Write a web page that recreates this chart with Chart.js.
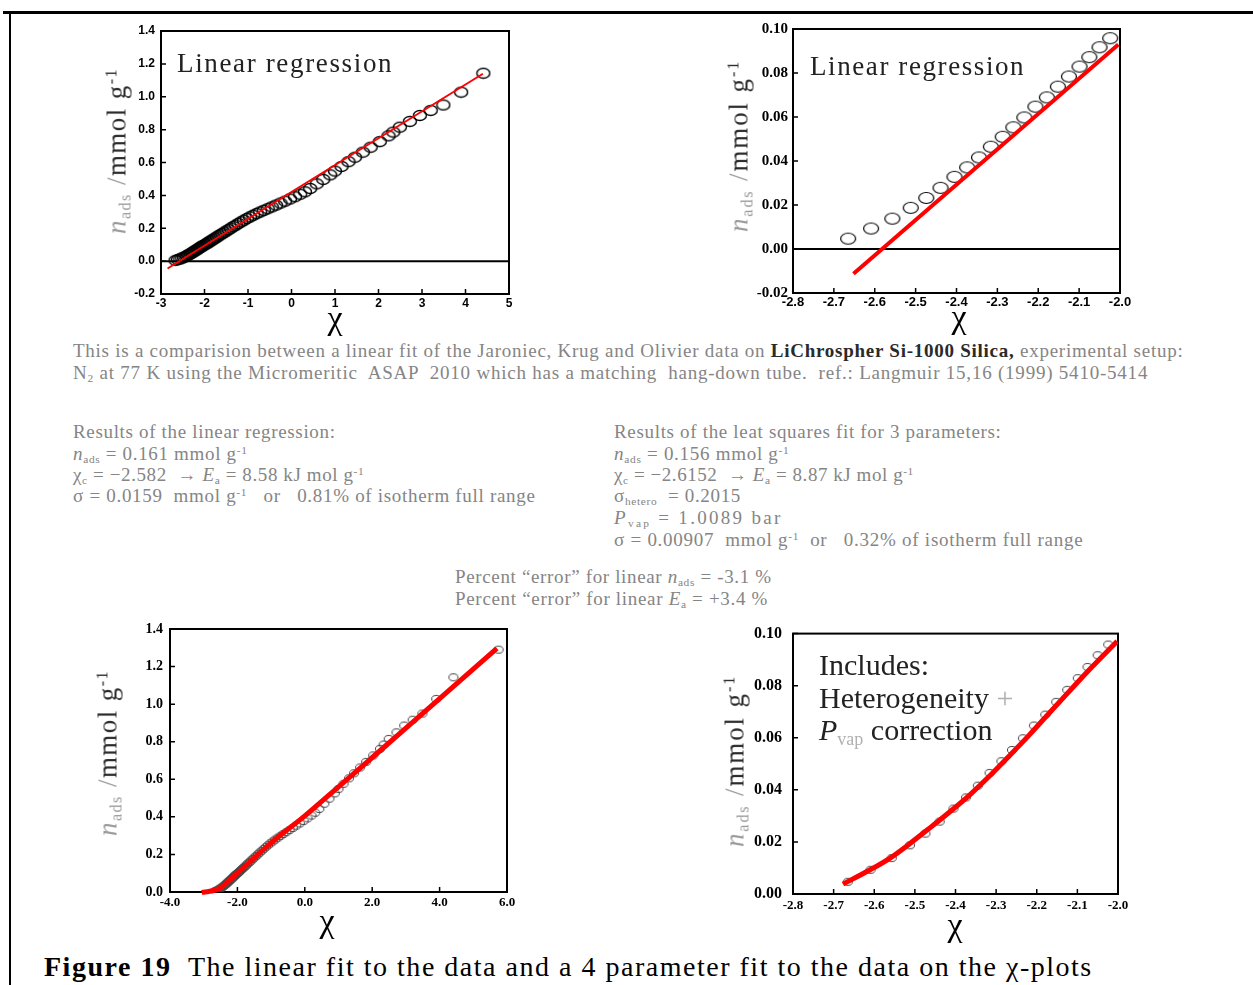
<!DOCTYPE html>
<html>
<head>
<meta charset="utf-8">
<script src="https://cdn.jsdelivr.net/npm/chart.js@4.4.1/dist/chart.umd.min.js"></script>
<style>
  body { margin: 0; width: 1253px; height: 985px; position: relative; background: #fff; overflow: hidden;
         font-family: "Liberation Serif", "Times New Roman", serif; }
  canvas { position: absolute; }
  .t { position: absolute; white-space: pre; line-height: 1; z-index: 2; }
  .g { color: #858585; font-size: 19px; }
  .g b { color: #2a2a2a; }
  .lt { color: #b0b0b0; }
  sub { font-size: 60%; vertical-align: -0.3em; line-height: 0; }
  sup { font-size: 60%; vertical-align: 0.55em; line-height: 0; }
  .ylab { position: absolute; white-space: pre; line-height: 1; font-size: 27px; color: #2a2a2a; z-index: 2;
          transform: translate(-50%, -50%) rotate(-90deg); }
  .ylab .n { color: #9a9a9a; }
  .chi { position: absolute; font-size: 34px; line-height: 1; transform: translate(-50%, -50%); z-index: 2; }
  .frame-top { position: absolute; left: 3px; top: 11px; width: 1250px; height: 3px; background: #000; }
  .frame-left { position: absolute; left: 9px; top: 11px; width: 2px; height: 974px; background: #000; }
</style>
</head>
<body>
<div class="frame-top"></div>
<div class="frame-left"></div>

<!-- plot annotations -->
<div class="t" style="left:177px;top:50px;font-size:27px;color:#222" data-w="216">Linear regression</div>
<div class="t" style="left:810px;top:53px;font-size:27px;color:#222" data-w="215">Linear regression</div>
<div class="t" style="left:819px;top:650px;font-size:30px;color:#222">Includes:</div>
<div class="t" style="left:819px;top:683px;font-size:30px;color:#222">Heterogeneity <span class="lt">+</span></div>
<div class="t" style="left:819px;top:715px;font-size:30px;color:#222"><i>P</i><sub class="lt">vap</sub> correction</div>

<!-- axis titles -->
<div class="ylab" style="left:117px;top:151px" data-w="166"><span class="n"><i>n</i><sub>ads</sub> /</span>mmol g<sup>-1</sup></div>
<div class="ylab" style="left:739px;top:146px" data-w="172"><span class="n"><i>n</i><sub>ads</sub> /</span>mmol g<sup>-1</sup></div>
<div class="ylab" style="left:108px;top:753px" data-w="166"><span class="n"><i>n</i><sub>ads</sub> /</span>mmol g<sup>-1</sup></div>
<div class="ylab" style="left:735px;top:761px" data-w="172"><span class="n"><i>n</i><sub>ads</sub> /</span>mmol g<sup>-1</sup></div>
<div class="chi" style="left:335px;top:318px">χ</div>
<div class="chi" style="left:959px;top:317px">χ</div>
<div class="chi" style="left:327px;top:921px">χ</div>
<div class="chi" style="left:955px;top:925px">χ</div>

<!-- description text -->
<div class="t g" style="left:73px;top:341px" data-w="1110">This is a comparision between a linear fit of the Jaroniec, Krug and Olivier data on <b>LiChrospher Si-1000 Silica,</b> experimental setup:</div>
<div class="t g" style="left:73px;top:363px" data-w="1075">N<sub>2</sub> at 77 K using the Micromeritic  ASAP  2010 which has a matching  hang-down tube.  ref.: Langmuir 15,16 (1999) 5410-5414</div>

<div class="t g" style="left:73px;top:422px" data-w="263">Results of the linear regression:</div>
<div class="t g" style="left:73px;top:444px" data-w="175"><i>n</i><sub>ads</sub> = 0.161 mmol g<sup>-1</sup></div>
<div class="t g" style="left:73px;top:465px" data-w="291">χ<sub>c</sub> = −2.582  → <i>E</i><sub>a</sub> = 8.58 kJ mol g<sup>-1</sup></div>
<div class="t g" style="left:73px;top:486px" data-w="463">σ = 0.0159  mmol g<sup>-1</sup>   or   0.81% of isotherm full range</div>

<div class="t g" style="left:614px;top:422px" data-w="388">Results of the leat squares fit for 3 parameters:</div>
<div class="t g" style="left:614px;top:444px" data-w="176"><i>n</i><sub>ads</sub> = 0.156 mmol g<sup>-1</sup></div>
<div class="t g" style="left:614px;top:465px" data-w="300">χ<sub>c</sub> = −2.6152  → <i>E</i><sub>a</sub> = 8.87 kJ mol g<sup>-1</sup></div>
<div class="t g" style="left:614px;top:486px" data-w="127">σ<sub>hetero</sub>  = 0.2015</div>
<div class="t g" style="left:614px;top:508px" data-w="169"><i>P</i><sub>vap</sub> = 1.0089 bar</div>
<div class="t g" style="left:614px;top:530px" data-w="469">σ = 0.00907  mmol g<sup>-1</sup>  or   0.32% of isotherm full range</div>

<div class="t g" style="left:455px;top:567px" data-w="317">Percent “error” for linear <i>n</i><sub>ads</sub> = -3.1 %</div>
<div class="t g" style="left:455px;top:589px" data-w="313">Percent “error” for linear <i>E</i><sub>a</sub> = +3.4 %</div>

<div class="t" style="left:44px;top:953px;font-size:28px;color:#000" data-w="1049"><b>Figure 19</b>  The linear fit to the data and a 4 parameter fit to the data on the χ-plots</div>

<script>
// points in the low pressure range (the two zoomed plots)
const chiLow = [-2.665, -2.609, -2.557, -2.512, -2.474, -2.439, -2.405, -2.374, -2.345, -2.316, -2.287,
                -2.261, -2.234, -2.207, -2.179, -2.152, -2.125, -2.099, -2.075, -2.050, -2.024];
const nLow = [0.0047, 0.0093, 0.0138, 0.0187, 0.0232, 0.0278, 0.0328, 0.0371, 0.0416, 0.0465, 0.0510,
              0.0553, 0.0598, 0.0647, 0.0689, 0.0738, 0.0784, 0.0829, 0.0872, 0.0917, 0.0958];
// rest of the isotherm
const chiHigh = [-1.985, -1.955, -1.925, -1.893, -1.860, -1.826, -1.790, -1.753, -1.714, -1.674, -1.632,
                 -1.588, -1.542, -1.494, -1.444, -1.392, -1.337, -1.280, -1.220, -1.158, -1.093, -1.025,
                 -0.954, -0.880, -0.802, -0.721, -0.636, -0.547, -0.454, -0.356, -0.254, -0.147, -0.035,
                 0.08, 0.20, 0.31, 0.43, 0.58, 0.73, 0.89, 1.00, 1.15, 1.31, 1.46, 1.64, 1.82, 2.03,
                 2.23, 2.34, 2.49, 2.72, 2.95, 3.20, 3.49, 3.90, 4.41, 5.75];
const nHigh = [0.101, 0.106, 0.111, 0.117, 0.122, 0.128, 0.134, 0.140, 0.147, 0.154, 0.161,
               0.168, 0.176, 0.184, 0.192, 0.201, 0.210, 0.219, 0.229, 0.239, 0.249, 0.259,
               0.269, 0.279, 0.289, 0.299, 0.309, 0.319, 0.330, 0.341, 0.353, 0.365, 0.378,
               0.392, 0.407, 0.422, 0.442, 0.470, 0.497, 0.525, 0.548, 0.576, 0.605, 0.632, 0.663, 0.693, 0.727,
               0.762, 0.785, 0.815, 0.850, 0.886, 0.917, 0.950, 1.028, 1.143, 1.290];

// linear regression line (end points)
const linChiWide = [-2.85, 4.40];
const linNWide = [-0.045, 1.14];
const linChiLow = [-2.652, -2.004];
const linNLow = [-0.0113, 0.093];

// heterogeneity + Pvap fit
const fitChi = [-3.06, -2.85, -2.7, -2.55, -2.4, -2.2, -2.0, -1.0, 0.0, 1.0, 2.0, 3.0, 4.0, 5.7];
const fitN = [-0.002, 0.003, 0.008, 0.017, 0.036, 0.068, 0.100, 0.262, 0.405, 0.560, 0.716, 0.872, 1.03, 1.297];
const fitChiLow = [-2.677, -2.610, -2.561, -2.512, -2.463, -2.413, -2.364, -2.315, -2.266, -2.217, -2.168, -2.119, -2.069, -2.002];
const fitNLow = [0.0038, 0.0093, 0.0138, 0.0194, 0.0254, 0.0317, 0.0382, 0.0455, 0.0533, 0.0613, 0.0697, 0.0780, 0.0864, 0.0971];

// tick values
const ticksX1 = [-3, -2, -1, 0, 1, 2, 3, 4, 5];
const ticksY1 = [-0.2, 0, 0.2, 0.4, 0.6, 0.8, 1.0, 1.2, 1.4];
const ticksXLow = [-2.8, -2.7, -2.6, -2.5, -2.4, -2.3, -2.2, -2.1, -2.0];
const ticksY2 = [-0.02, 0, 0.02, 0.04, 0.06, 0.08, 0.10];
const ticksX3 = [-4, -2, 0, 2, 4, 6];
const ticksY3 = [0, 0.2, 0.4, 0.6, 0.8, 1.0, 1.2, 1.4];
const ticksY4 = [0, 0.02, 0.04, 0.06, 0.08, 0.10];

const chiAll = chiLow.concat(chiHigh);
const nAll = nLow.concat(nHigh);
const pts = (xs, ys) => xs.map((x, i) => ({ x: x, y: ys[i] }));
const fmt = (v, d) => (Math.abs(v) < 1e-9 ? 0 : v).toFixed(d);

// open ellipse marker
function ring(w, h, lw, col) {
    const c = document.createElement('canvas');
    c.width = w + 3; c.height = h + 3;
    const g = c.getContext('2d');
    g.strokeStyle = col; g.lineWidth = lw;
    g.beginPath();
    g.ellipse(c.width / 2, c.height / 2, w / 2, h / 2, 0, 0, Math.PI * 2);
    g.stroke();
    return c;
}

// box, zero line and inward ticks
const framePlugin = {
    id: 'frame',
    beforeDatasetsDraw(chart, args, opts) {
        const ctx = chart.ctx, a = chart.chartArea, x = chart.scales.x, y = chart.scales.y;
        ctx.save();
        ctx.strokeStyle = '#000';
        ctx.lineWidth = 2;
        ctx.strokeRect(a.left, a.top, a.right - a.left, a.bottom - a.top);
        if (opts.zero) {
            const z = y.getPixelForValue(0);
            ctx.beginPath(); ctx.moveTo(a.left, z); ctx.lineTo(a.right, z); ctx.stroke();
        }
        ctx.lineWidth = 1.5;
        ctx.beginPath();
        y.ticks.forEach(t => { const p = y.getPixelForValue(t.value); ctx.moveTo(a.left, p); ctx.lineTo(a.left + 5, p); });
        x.ticks.forEach(t => { const p = x.getPixelForValue(t.value); ctx.moveTo(p, a.bottom); ctx.lineTo(p, a.bottom - 5); });
        ctx.stroke();
        ctx.restore();
    }
};

function makeChart(box, o) {
    const padL = 60, padT = 16, padR = 22, padB = 30;
    const cv = document.createElement('canvas');
    const w = box.r - box.l + padL + padR, h = box.b - box.t + padT + padB;
    cv.width = w; cv.height = h;
    cv.style.left = (box.l - padL) + 'px';
    cv.style.top = (box.t - padT) + 'px';
    document.body.appendChild(cv);
    return new Chart(cv, {
        type: 'scatter',
        data: { datasets: o.datasets },
        options: {
            responsive: false,
            animation: false,
            layout: { padding: { left: 0, top: padT, right: padR, bottom: 0 } },
            plugins: { legend: { display: false }, tooltip: { enabled: false }, frame: { zero: o.zero } },
            scales: {
                x: {
                    type: 'linear', min: o.xt[0], max: o.xt[o.xt.length - 1],
                    grid: { display: false, drawTicks: false }, border: { display: false },
                    afterBuildTicks: s => { s.ticks = o.xt.map(v => ({ value: v })); },
                    afterFit: s => { s.height = padB; },
                    ticks: { font: o.xf, color: '#000', padding: o.xpad, maxRotation: 0, autoSkip: false,
                             callback: v => fmt(v, o.xd) }
                },
                y: {
                    type: 'linear', min: o.yt[0], max: o.yt[o.yt.length - 1],
                    grid: { display: false, drawTicks: false }, border: { display: false },
                    afterBuildTicks: s => { s.ticks = o.yt.map(v => ({ value: v })); },
                    afterFit: s => { s.width = padL; },
                    ticks: { font: o.yf, color: '#000', padding: o.ypad, autoSkip: false,
                             callback: v => fmt(v, o.yd) }
                }
            }
        },
        plugins: [framePlugin]
    });
}

const sansB = s => ({ family: 'Liberation Sans', size: s, weight: 'bold' });
const serifB = s => ({ family: 'Liberation Serif', size: s, weight: 'bold' });
const red = '#ff0000';

// top left: linear regression, full range
makeChart({ l: 161, r: 509, t: 31, b: 294 }, {
    xt: ticksX1, yt: ticksY1, xd: 0, yd: 1, xf: sansB(12), yf: sansB(12), xpad: 2, ypad: 6, zero: true,
    datasets: [
        { data: pts(linChiWide, linNWide), showLine: true, borderColor: red, borderWidth: 2, pointRadius: 0, order: 0 },
        { data: pts(chiAll, nAll), pointStyle: ring(13, 10, 1.4, '#000'), pointRadius: 6, order: 1 }
    ]
});

// top right: linear regression, low range
makeChart({ l: 793, r: 1120, t: 29, b: 293 }, {
    xt: ticksXLow, yt: ticksY2, xd: 1, yd: 2, xf: sansB(13), yf: serifB(15), xpad: 2, ypad: 5, zero: true,
    datasets: [
        { data: pts(linChiLow, linNLow), showLine: true, borderColor: red, borderWidth: 4, pointRadius: 0, order: 0 },
        { data: pts(chiLow, nLow), pointStyle: ring(15, 11, 1.2, '#000'), pointRadius: 7, order: 1 }
    ]
});

// bottom left: 4 parameter fit, full range
makeChart({ l: 170, r: 507, t: 629, b: 892 }, {
    xt: ticksX3, yt: ticksY3, xd: 1, yd: 1, xf: serifB(13), yf: serifB(14), xpad: 3, ypad: 7, zero: false,
    datasets: [
        { data: pts(fitChi, fitN), showLine: true, borderColor: red, borderWidth: 5, pointRadius: 0,
          tension: 0.3, cubicInterpolationMode: 'monotone', clip: false, order: 0 },
        { data: pts(chiAll, nAll), pointStyle: ring(9, 7, 1, '#444'), pointRadius: 5, order: 1 }
    ]
});

// bottom right: 4 parameter fit, low range
makeChart({ l: 793, r: 1118, t: 629, b: 894 }, {
    xt: ticksXLow, yt: ticksY4, xd: 1, yd: 2, xf: serifB(13), yf: serifB(16), xpad: 4, ypad: 11, zero: false,
    datasets: [
        { data: pts(fitChiLow, fitNLow), showLine: true, borderColor: red, borderWidth: 5, pointRadius: 0,
          tension: 0.3, cubicInterpolationMode: 'monotone', order: 0 },
        { data: pts(chiLow, nLow), pointStyle: ring(9, 7, 1, '#444'), pointRadius: 5, order: 1 }
    ]
});

// stretch text lines to the widths they have in the figure
document.querySelectorAll('[data-w]').forEach(el => {
    el.style.letterSpacing = '0px';
    const need = +el.dataset.w - el.offsetWidth;
    el.style.letterSpacing = (need / el.textContent.length) + 'px';
});
</script>
</body>
</html>
